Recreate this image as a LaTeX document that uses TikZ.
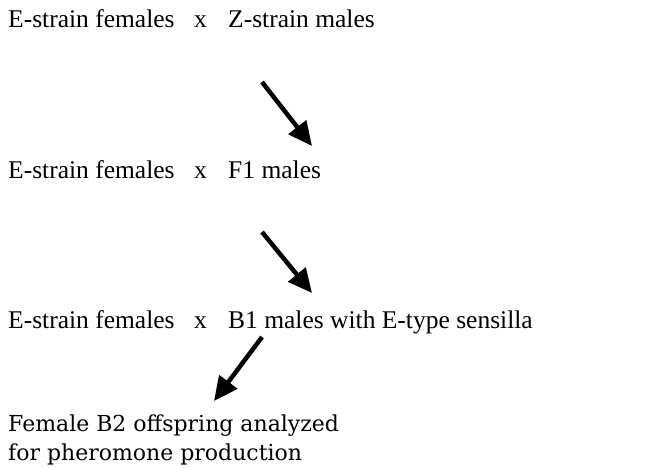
\documentclass[tikz,border=0pt]{standalone}
\usepackage{fontspec}
\setmainfont{Liberation Serif}
\newfontfamily\centfont{DejaVu Serif}
\usetikzlibrary{arrows.meta}
\tikzset{
  lbl/.style={anchor=base west, inner sep=0pt, font=\fontsize{25.5}{30}\selectfont},
  lbltwo/.style={anchor=base west, inner sep=0pt, align=left, font=\centfont\fontsize{22}{29}\selectfont},
  bigarrow/.style={line width=4.5pt, -{Triangle[length=24pt,width=22pt]}}
}
\begin{document}
\begin{tikzpicture}[x=1pt,y=-1pt]
\useasboundingbox (0,0) rectangle (653,468);
\node[lbl] (f1) at (8,28) {E-strain females};
\node[lbl] (x1) at (194,28) {x};
\node[lbl] (m1) at (228,28) {Z-strain males};
\node[lbl] (f2) at (8,178) {E-strain females};
\node[lbl] (x2) at (194,178) {x};
\node[lbl] (m2) at (228,178) {F1 males};
\node[lbl] (f3) at (8,328) {E-strain females};
\node[lbl] (x3) at (194,328) {x};
\node[lbl] (m3) at (228,328) {B1 males with E-type sensilla};
\node[lbltwo] (l4) at (8,431) {Female B2 offspring analyzed};
\node[lbltwo] (l5) at (8,460) {for pheromone production};
\coordinate (a1s) at (262,82);
\coordinate (a1e) at (312,146);
\coordinate (a2s) at (262,232);
\coordinate (a2e) at (312,293);
\coordinate (a3s) at (262,337);
\coordinate (a3e) at (214,401);
\draw[bigarrow] (a1s) -- (a1e);
\draw[bigarrow] (a2s) -- (a2e);
\draw[bigarrow] (a3s) -- (a3e);
\end{tikzpicture}
\end{document}
